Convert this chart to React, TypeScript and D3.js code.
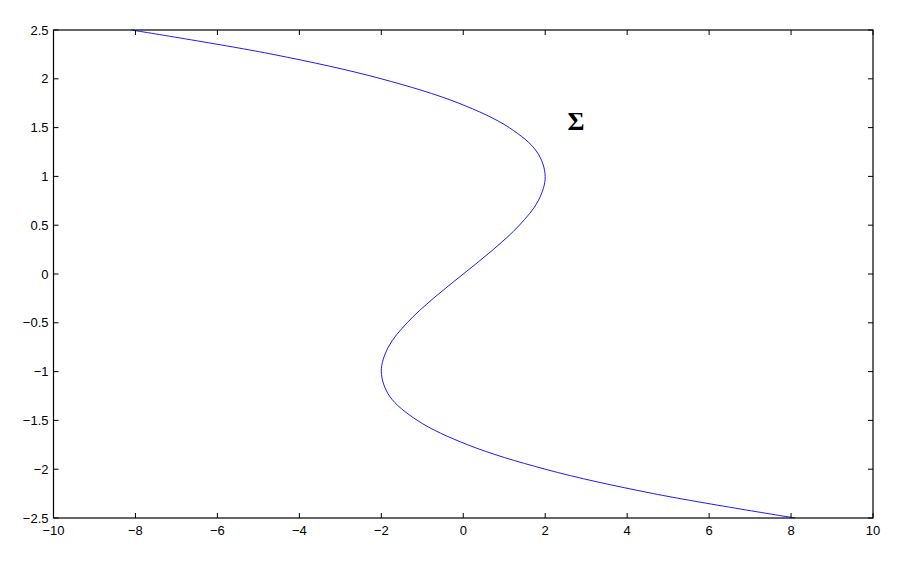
import * as d3 from 'd3'
import { useEffect, useRef } from 'react'

// curve points (y from top to bottom)
const curveY = [2.5, 2.25, 2.0, 1.75, 1.5, 1.25, 1.0, 0.75, 0.5, 0.25, 0, -0.25, -0.5, -0.75, -1.0, -1.25, -1.5, -1.75, -2.0, -2.25, -2.5]
const curveX = [-8.1, -4.64, -2.0, -0.11, 1.12, 1.8, 2.0, 1.83, 1.37, 0.73, 0, -0.73, -1.37, -1.83, -2.0, -1.8, -1.12, 0.11, 2.0, 4.64, 8.1]

const xTicks = [-10, -8, -6, -4, -2, 0, 2, 4, 6, 8, 10]
const yTicks = [-2.5, -2, -1.5, -1, -0.5, 0, 0.5, 1, 1.5, 2, 2.5]

const label = { x: 2.75, y: 1.5, text: 'Σ' }

const App = () => {
  const svgRef = useRef(null)

  useEffect(() => {
    const svg = d3.select(svgRef.current)
    svg.selectAll('*').remove()

    const margin = { top: 30, right: 24, bottom: 54, left: 53.5 }
    const width = 897 - margin.left - margin.right
    const height = 572 - margin.top - margin.bottom

    const x = d3.scaleLinear().domain([-10, 10]).range([0, width])
    const y = d3.scaleLinear().domain([-2.5, 2.5]).range([height, 0])
    const fmt = d3.format('~g')

    const g = svg.append('g').attr('transform', `translate(${margin.left},${margin.top})`)

    g.append('rect')
      .attr('width', width)
      .attr('height', height)
      .attr('fill', 'white')

    // curve
    const pts = curveY.map((v, i) => [curveX[i], v])
    const line = d3
      .line()
      .x((d) => x(d[0]))
      .y((d) => y(d[1]))
      .curve(d3.curveCatmullRom)
    g.append('path')
      .attr('d', line(pts))
      .attr('fill', 'none')
      .attr('stroke', '#0000ff')
      .attr('stroke-width', 0.9)

    // ticks (inside, on all four sides)
    const tickLen = 5
    xTicks.forEach((t) => {
      g.append('line')
        .attr('x1', x(t)).attr('x2', x(t))
        .attr('y1', height).attr('y2', height - tickLen)
        .attr('stroke', '#000')
      g.append('line')
        .attr('x1', x(t)).attr('x2', x(t))
        .attr('y1', 0).attr('y2', tickLen)
        .attr('stroke', '#000')
      g.append('text')
        .attr('x', x(t))
        .attr('y', height + 17)
        .attr('text-anchor', 'middle')
        .style('font-family', 'Liberation Sans, Arial, sans-serif')
        .style('font-size', '13px')
        .text(fmt(t))
    })
    yTicks.forEach((t) => {
      g.append('line')
        .attr('x1', 0).attr('x2', tickLen)
        .attr('y1', y(t)).attr('y2', y(t))
        .attr('stroke', '#000')
      g.append('line')
        .attr('x1', width).attr('x2', width - tickLen)
        .attr('y1', y(t)).attr('y2', y(t))
        .attr('stroke', '#000')
      g.append('text')
        .attr('x', -5)
        .attr('y', y(t))
        .attr('dy', '0.35em')
        .attr('text-anchor', 'end')
        .style('font-family', 'Liberation Sans, Arial, sans-serif')
        .style('font-size', '13px')
        .text(fmt(t))
    })

    // box
    g.append('rect')
      .attr('width', width)
      .attr('height', height)
      .attr('fill', 'none')
      .attr('stroke', '#000')
      .attr('stroke-width', 1.2)

    // sigma label
    g.append('text')
      .attr('x', x(label.x))
      .attr('y', y(label.y))
      .attr('text-anchor', 'middle')
      .attr('dy', '0.1em')
      .style('font-family', 'Liberation Serif, Times New Roman, serif')
      .style('font-weight', 'bold')
      .style('font-size', '26px')
      .text(label.text)
  }, [])

  return (
    <div style={{ position: 'fixed', left: 0, top: 0 }}>
      <svg width="897" height="572" ref={svgRef} style={{ display: 'block', background: 'white' }}></svg>
    </div>
  )
}

export default App
